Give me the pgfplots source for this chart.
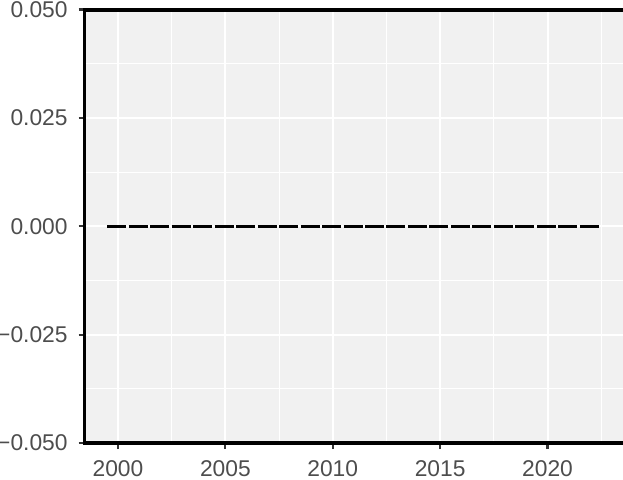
\documentclass[border=0pt]{standalone}
\usepackage{pgfplots}
\pgfplotsset{compat=1.18}
\usepackage{fontspec}
\setmainfont{Liberation Sans}
\definecolor{panelbg}{HTML}{F1F1F1}
\definecolor{ticklab}{HTML}{4D4D4D}
\definecolor{tickcol}{HTML}{333333}
\begin{document}
\begin{tikzpicture}
\useasboundingbox (-42.3pt,-18pt) rectangle (269.2pt,221.5pt);
\begin{axis}[
  scale only axis,
  width=269.9pt, height=216.75pt,
  xmin=1998.445, xmax=2023.58,
  ymin=-0.05, ymax=0.05,
  clip=false,
  axis background/.style={fill=panelbg},
  axis line style={black, line width=1.8pt},
  xtick={2000,2005,2010,2015,2020},
  xticklabels={2000,2005,2010,2015,2020},
  minor xtick={1997.5,2002.5,2007.5,2012.5,2017.5,2022.5},
  ytick={-0.05,-0.025,0,0.025,0.05},
  yticklabels={−0.050,−0.025,0.000,0.025,0.050},
  minor ytick={-0.0375,-0.0125,0.0125,0.0375},
  tick pos=left,
  tick align=outside,
  major tick length=3pt,
  minor tick length=0pt,
  tick style={tickcol, line width=1.1pt},
  grid=both,
  major grid style={white, line width=1pt},
  minor grid style={white, line width=0.5pt},
  ticklabel style={font=\fontsize{11.4}{13.7}\selectfont, text=ticklab, inner sep=0pt},
  xticklabel style={anchor=north, yshift=-5.5pt},
  yticklabel style={anchor=east, xshift=-5.3pt},
]
\addplot[black, line width=1.65pt, line cap=butt, dash pattern=on 9.5pt off 1.24pt] coordinates {
(1999.5,0) (2000.5,0) (2001.5,0) (2002.5,0) (2003.5,0) (2004.5,0) (2005.5,0) (2006.5,0)
(2007.5,0) (2008.5,0) (2009.5,0) (2010.5,0) (2011.5,0) (2012.5,0) (2013.5,0) (2014.5,0)
(2015.5,0) (2016.5,0) (2017.5,0) (2018.5,0) (2019.5,0) (2020.5,0) (2021.5,0) (2022.5,0)
};
\addplot[black, line width=2pt] coordinates {(1998.445,0.05) (2023.58,0.05)};
\end{axis}
\end{tikzpicture}
\end{document}
